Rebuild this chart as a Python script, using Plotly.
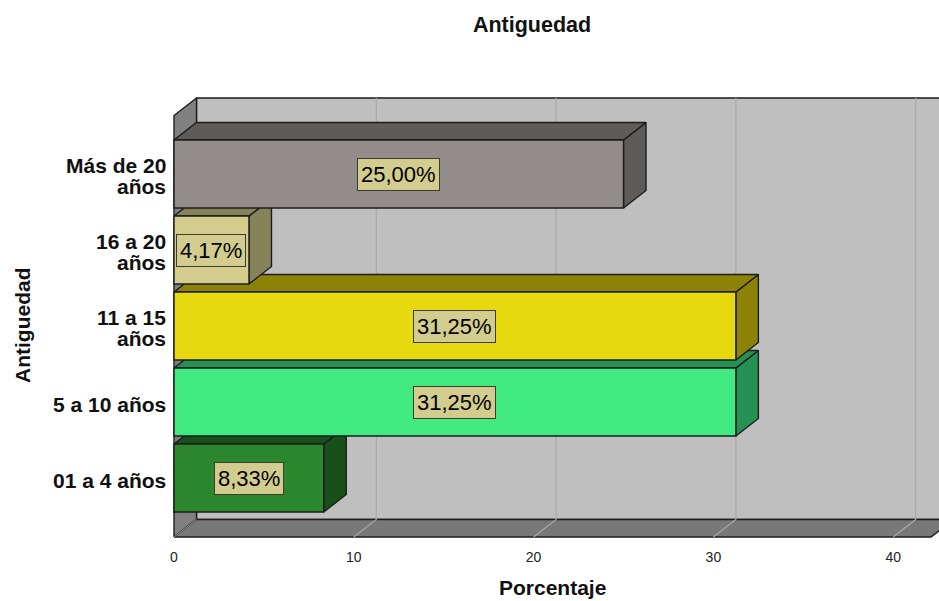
import plotly.graph_objects as go

# Data
categories = ["01 a 4 años", "5 a 10 años", "11 a 15\naños", "16 a 20\naños", "Más de 20\naños"]
percentages = [8.33, 31.25, 31.25, 4.17, 25.00]
value_labels = ["8,33%", "31,25%", "31,25%", "4,17%", "25,00%"]
x_ticks = [0, 10, 20, 30, 40]

# Styles: front face and shaded face of each bar
front_colors = ["#2a872d", "#40ea80", "#e6d90f", "#d3cc8c", "#928d8b"]
shade_colors = ["#17501a", "#259154", "#8c8206", "#86825a", "#5f5b5a"]
edge = "#1c1c1c"

W, H = 939, 601
PX_X0, PX_PER_UNIT = 174, 17.98     # x scale
PX_CAT0, PX_PER_CAT = 478, 76       # category scale
DEPTH_PX_X, DEPTH_PX_Y = 22.5, 17.5 # extrusion of the 3-D box
BAR_PX = 68
ML, MT, MB = 170, 90, 62

dx = DEPTH_PX_X / PX_PER_UNIT
dy = DEPTH_PX_Y / PX_PER_CAT
half = BAR_PX / PX_PER_CAT / 2

x_range = [(ML - PX_X0) / PX_PER_UNIT, (W - PX_X0) / PX_PER_UNIT]
y_range = [(PX_CAT0 - (H - MB)) / PX_PER_CAT, (PX_CAT0 - MT) / PX_PER_CAT]
floor_y = (PX_CAT0 - 537) / PX_PER_CAT
left_top_y = (PX_CAT0 - 115.5) / PX_PER_CAT
x_end = (931 - PX_X0) / PX_PER_UNIT
x_far = x_range[1] + 2


def paper_x(px):
    return (px - ML) / (W - ML)


def paper_y(py):
    return (H - MB - py) / (H - MT - MB)


def poly(xs, ys, fill, z, line=edge, width=1.4):
    return go.Scatter(
        x=xs + xs[:1], y=ys + ys[:1], mode="lines", fill="toself", fillcolor=fill,
        line=dict(color=line, width=width), hoverinfo="skip", showlegend=False, zorder=z,
    )


fig = go.Figure()

# Box walls
fig.add_trace(poly([dx, x_far, x_far, dx],
                   [floor_y + dy, floor_y + dy, left_top_y + dy, left_top_y + dy], "#bfbfbf", 0))
fig.add_trace(poly([0, dx, dx, 0],
                   [floor_y, floor_y + dy, left_top_y + dy, left_top_y], "#808080", 0))
fig.add_trace(poly([0, x_end, x_end + dx, x_far, dx],
                   [floor_y, floor_y, floor_y + dy, floor_y + dy, floor_y + dy], "#787878", 0))

# Gridlines across the floor and up the back wall
for t in x_ticks[1:]:
    fig.add_trace(go.Scatter(
        x=[t, t + dx, t + dx], y=[floor_y, floor_y + dy, left_top_y + dy], mode="lines",
        line=dict(color="#a9a9a9", width=1.2), hoverinfo="skip", showlegend=False, zorder=0,
    ))
# Diagonal seam at the corner of the floor
fig.add_trace(go.Scatter(
    x=[0, dx], y=[floor_y, floor_y + dy], mode="lines",
    line=dict(color="#a0a0a0", width=1), hoverinfo="skip", showlegend=False, zorder=0,
))

# Bars, lowest category first so that each upper bar covers the top of the one below
for i, (v, front, shade) in enumerate(zip(percentages, front_colors, shade_colors)):
    z = 2 * i + 1
    lo, hi = i - half, i + half
    fig.add_trace(poly([v, v + dx, v + dx, v], [lo, lo + dy, hi + dy, hi], shade, z))
    fig.add_trace(poly([0, v, v + dx, dx], [hi, hi, hi + dy, hi + dy], shade, z))
    fig.add_trace(go.Bar(
        x=[v], y=[i], orientation="h", width=2 * half, marker=dict(
            color=front, line=dict(color=edge, width=1.4)),
        hoverinfo="skip", showlegend=False, zorder=z + 1,
    ))

annotations = []

# Value labels
for i, (v, text) in enumerate(zip(percentages, value_labels)):
    annotations.append(dict(
        x=v / 2, y=i, xref="x", yref="y", text=text, showarrow=False, yshift=-0.5,
        font=dict(family="Liberation Sans", size=22, color="#000000"),
        bgcolor="#d2cd8e", bordercolor="#3c3c2c", borderwidth=1, borderpad=3,
    ))

# Category labels, set line by line for tight leading
for i, cat in enumerate(categories):
    lines = cat.split("\n")
    for j, line in enumerate(lines):
        offset_px = (j - (len(lines) - 1) / 2) * 21
        annotations.append(dict(
            x=0, y=i, xref="x", yref="y", text=line, showarrow=False,
            xanchor="right", xshift=-6, yshift=-offset_px - 2,
            font=dict(family="Liberation Sans", size=21, color="#111111", weight="bold"),
        ))

# Axis titles
annotations.append(dict(
    x=paper_x(552), y=paper_y(587.5), xref="paper", yref="paper", xanchor="center", yanchor="middle",
    text="Porcentaje", showarrow=False,
    font=dict(family="Liberation Sans", size=21, color="#111111", weight="bold"),
))
annotations.append(dict(
    x=paper_x(22), y=paper_y(325), xref="paper", yref="paper", xanchor="center", yanchor="middle",
    text="Antiguedad", showarrow=False, textangle=-90,
    font=dict(family="Liberation Sans", size=21, color="#111111", weight="bold"),
))

fig.update_layout(
    width=W, height=H, margin=dict(l=ML, r=0, t=MT, b=MB, autoexpand=False),
    paper_bgcolor="white", plot_bgcolor="white", barmode="overlay", showlegend=False,
    title=dict(
        text="Antiguedad", x=532 / W, xanchor="center", y=1 - 24 / H, yanchor="middle",
        font=dict(family="Liberation Sans", size=21.5, color="#111111", weight="bold"),
    ),
    xaxis=dict(
        range=x_range, tickvals=x_ticks, showgrid=False, zeroline=False, showline=False,
        ticks="outside", ticklen=5, tickcolor="rgba(0,0,0,0)",
        tickfont=dict(family="Liberation Sans", size=14, color="#222222"),
    ),
    yaxis=dict(range=y_range, showticklabels=False, showgrid=False, zeroline=False, showline=False),
    annotations=annotations,
)

fig.write_html("out.html", config=dict(displayModeBar=False))
